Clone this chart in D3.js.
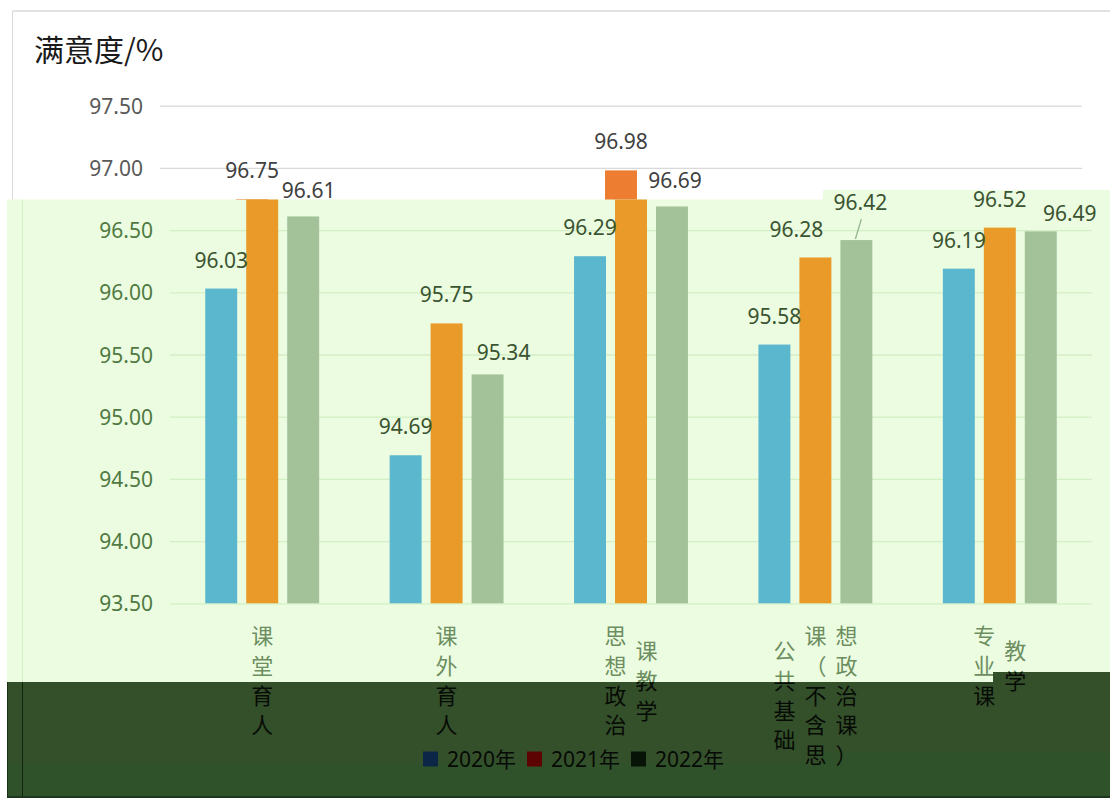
<!DOCTYPE html>
<html>
<head>
<meta charset="utf-8">
<script src="https://cdn.jsdelivr.net/npm/d3@7"></script>
<style>
  html, body { margin: 0; padding: 0; background: #fff; }
  svg { display: block; }
  text { font-family: "Noto Sans", "Noto Sans CJK SC", sans-serif; }
</style>
</head>
<body>
<svg id="chart" width="1110" height="798"></svg>
<script>
// data
var categories = ["课堂育人", "课外育人", "思想政治课教学", "公共基础课（不含思想政治课）", "专业课教学"];
var categoryLines = [["课堂育人"], ["课外育人"], ["思想政治", "课教学"], ["公共基础", "课（不含思", "想政治课）"], ["专业课", "教学"]];
var seriesNames = ["2020年", "2021年", "2022年"];
var values2020 = [96.03, 94.69, 96.29, 95.58, 96.19];
var values2021 = [96.75, 95.75, 96.98, 96.28, 96.52];
var values2022 = [96.61, 95.34, 96.69, 96.42, 96.49];
var yTicks = [93.5, 94, 94.5, 95, 95.5, 96, 96.5, 97, 97.5];
var titleText = "满意度/%";

// hand-moved data labels (dx, dy in px from the default spot)
var labelNudge = [
  [[0, 0], [0, 0], [0, 0], [0, 0], [0, 0]],
  [[0, 0], [0, 0], [0, 0], [-19, 0], [0, 0]],
  [[15.5, 2.8], [16, 7], [13, 2.8], [4, -9.5], [29, 10.5]]
];
var leaderFor = [[2, 3]]; // series, category

var series = seriesNames.map(function(name, i) {
  return { name: name, values: [values2020, values2021, values2022][i] };
});

var svg = d3.select('#chart');
var W = 1110, H = 798;

var y = d3.scaleLinear().domain([93.5, 97.5]).range([603.3, 105.7]);
var x0 = d3.scaleBand().domain(categories).range([160, 1082]);
var x1 = d3.scaleBand().domain(seriesNames).range([0, x0.bandwidth()])
  .paddingInner(0.22).paddingOuter(0.86);

var palWhite = {
  name: 'white',
  bg: '#ffffff', grid: '#D9D9D9', border: '#D9D9D9', tick: '#595959', label: '#404040',
  cat: '#595959', title: '#1a1a1a', bars: ['#5B9BD5', '#ED7D31', '#A5A5A5'], leader: '#A6A6A6',
  legend: ['#5B9BD5', '#ED7D31', '#A5A5A5'], legendText: '#595959'
};
var palLight = {
  name: 'light',
  bg: '#EBFCE1', grid: '#D3EFC5', border: '#D4EFC8', tick: '#507A42', label: '#3B5431',
  cat: '#6D8E60', title: '#3B5431', bars: ['#5BB7CD', '#E99A28', '#A4C29A'], leader: '#96B88C',
  legend: ['#5BB7CD', '#E99A28', '#A4C29A'], legendText: '#3B5431'
};
var palDark = {
  name: 'dark',
  bg: '#34502B', grid: '#2F4B27', border: '#10240C', tick: '#0C160A', label: '#0C160A',
  cat: '#070B05', title: '#070B05', bars: ['#2C5A62', '#6E4A14', '#4E5E48'], leader: '#1C3016',
  legend: ['#0B2646', '#5E0303', '#061306'], legendText: '#060905'
};

// which band a point of the picture falls in
function regionAt(px, py) {
  if (px >= 7 && py >= (px >= 993 ? 672 : 682)) return 'dark';
  if (px >= 7 && py >= (px >= 823 ? 190 : 199.5)) return 'light';
  return 'white';
}

function drawChart(layer, pal, shift) {
  layer.append('rect').attr('width', W).attr('height', H).attr('fill', pal.bg);

  var g = layer.append('g').attr('transform', 'translate(' + shift + ',0)');

  // chart border
  g.append('line').attr('x1', 12.5).attr('x2', 12.5).attr('y1', 11).attr('y2', H)
    .attr('stroke', pal.border);
  g.append('line').attr('x1', 12.5).attr('x2', W + 20).attr('y1', 11).attr('y2', 11)
    .attr('stroke', pal.border).attr('stroke-width', 1.5);

  g.append('text').attr('x', 34).attr('y', 61)
    .attr('font-size', 30).attr('fill', pal.title)
    .style('font-family', '"Noto Sans CJK SC", sans-serif')
    .text(titleText);

  // y axis with gridlines
  var axis = d3.axisLeft(y).tickValues(yTicks).tickFormat(d3.format('.2f'))
    .tickSize(-(x0.range()[1] - x0.range()[0])).tickPadding(17);
  var ax = g.append('g').attr('transform', 'translate(' + x0.range()[0] + ',0)').call(axis);
  ax.select('.domain').remove();
  ax.selectAll('.tick line').attr('stroke', pal.grid).attr('stroke-width', 1.3);
  ax.selectAll('.tick text').attr('fill', pal.tick).attr('font-size', 21)
    .attr('dy', '0.36em').style('font-family', '"Noto Sans", sans-serif');

  // bars
  series.forEach(function(s, si) {
    g.append('g').selectAll('rect')
      .data(s.values)
      .join('rect')
      .attr('x', function(d, i) { return x0(categories[i]) + x1(s.name); })
      .attr('y', function(d) { return y(d); })
      .attr('width', x1.bandwidth())
      .attr('height', function(d) { return y(93.5) - y(d); })
      .attr('fill', pal.bars[si]);
  });

  // data labels
  series.forEach(function(s, si) {
    g.append('g').selectAll('text')
      .data(s.values)
      .join('text')
      .attr('x', function(d, i) {
        return x0(categories[i]) + x1(s.name) + x1.bandwidth() / 2 + labelNudge[si][i][0];
      })
      .attr('y', function(d, i) { return y(d) - 28.5 + labelNudge[si][i][1]; })
      .attr('dy', '0.36em')
      .attr('text-anchor', 'middle')
      .attr('font-size', 21)
      .attr('fill', pal.label)
      .text(function(d) { return d.toFixed(2); });
  });

  // leader line for the moved label
  leaderFor.forEach(function(p) {
    var si = p[0], ci = p[1];
    var v = series[si].values[ci];
    var bx = x0(categories[ci]) + x1(series[si].name) + x1.bandwidth() / 2;
    var ly = y(v) - 28.5 + labelNudge[si][ci][1];
    g.append('line')
      .attr('x1', bx + labelNudge[si][ci][0] + 1).attr('y1', ly + 17)
      .attr('x2', bx - 1).attr('y2', y(v) - 1)
      .attr('stroke', pal.leader).attr('stroke-width', 1.3);
  });

  // category labels, stacked characters
  var pitch = 29.8, colGap = 31, blockTop = 621;
  categoryLines.forEach(function(cols, ci) {
    var cx = x0(categories[ci]) + x0.bandwidth() / 2;
    var maxLen = d3.max(cols, function(c) { return c.length; });
    var midY = blockTop + maxLen * pitch / 2;
    cols.forEach(function(col, j) {
      var colX = cx + (j - (cols.length - 1) / 2) * colGap;
      var chars = Array.from(col);
      g.append('g').selectAll('text')
        .data(chars)
        .join('text')
        .attr('x', colX)
        .attr('y', function(d, k) { return midY + (k - (chars.length - 1) / 2) * pitch; })
        .attr('dy', '0.37em')
        .attr('text-anchor', 'middle')
        .attr('font-size', 22)
        .attr('fill', pal.cat)
        .style('font-family', '"Noto Sans CJK SC", sans-serif')
        .text(function(d) { return d; });
    });
  });

  // legend
  var leg = g.append('g').attr('transform', 'translate(413,0)');
  seriesNames.forEach(function(name, i) {
    leg.append('rect').attr('x', i * 104).attr('y', 751.5).attr('width', 15).attr('height', 15)
      .attr('fill', pal.legend[i]);
    leg.append('text').attr('x', i * 104 + 24).attr('y', 759).attr('dy', '0.36em')
      .attr('font-size', 21).attr('fill', pal.legendText)
      .text(name);
  });

  // keep a text only in the bands its glyphs reach (clips cut the ones that cross)
  layer.selectAll('text').filter(function() {
    var r = this.getBoundingClientRect();
    var iy = r.height * 0.25;
    var xs = [r.x + 3, r.x + r.width / 2, r.x + r.width - 3];
    var ys = [r.y + iy, r.y + r.height / 2, r.y + r.height - iy];
    var hit = false;
    xs.forEach(function(px) {
      ys.forEach(function(py) { if (regionAt(px, py) === pal.name) hit = true; });
    });
    return !hit;
  }).remove();
}

// clip shapes of the two shifted bands
var defs = svg.append('defs');
defs.append('clipPath').attr('id', 'clipLight').append('path')
  .attr('d', 'M7,199.5 H823 V190 H' + W + ' V' + H + ' H7 Z');
defs.append('clipPath').attr('id', 'clipDark').append('path')
  .attr('d', 'M7,682 H993 V672 H' + W + ' V' + H + ' H7 Z');

var base = svg.append('g');
drawChart(base, palWhite, 0);

var light = svg.append('g').attr('clip-path', 'url(#clipLight)');
drawChart(light, palLight, 10);

var dark = svg.append('g').attr('clip-path', 'url(#clipDark)');
drawChart(dark, palDark, 10);
// lower, slightly greener strip
dark.insert('path', ':nth-child(2)')
  .attr('d', 'M7,763 H823 V753 H' + W + ' V' + H + ' H7 Z')
  .attr('fill', '#30522A');
dark.append('line').attr('x1', 7.5).attr('x2', 7.5).attr('y1', 672).attr('y2', H)
  .attr('stroke', '#1A3216');
dark.append('line').attr('x1', 7).attr('x2', W).attr('y1', 797).attr('y2', 797)
  .attr('stroke', '#17301A').attr('stroke-width', 1.5);
</script>
</body>
</html>
